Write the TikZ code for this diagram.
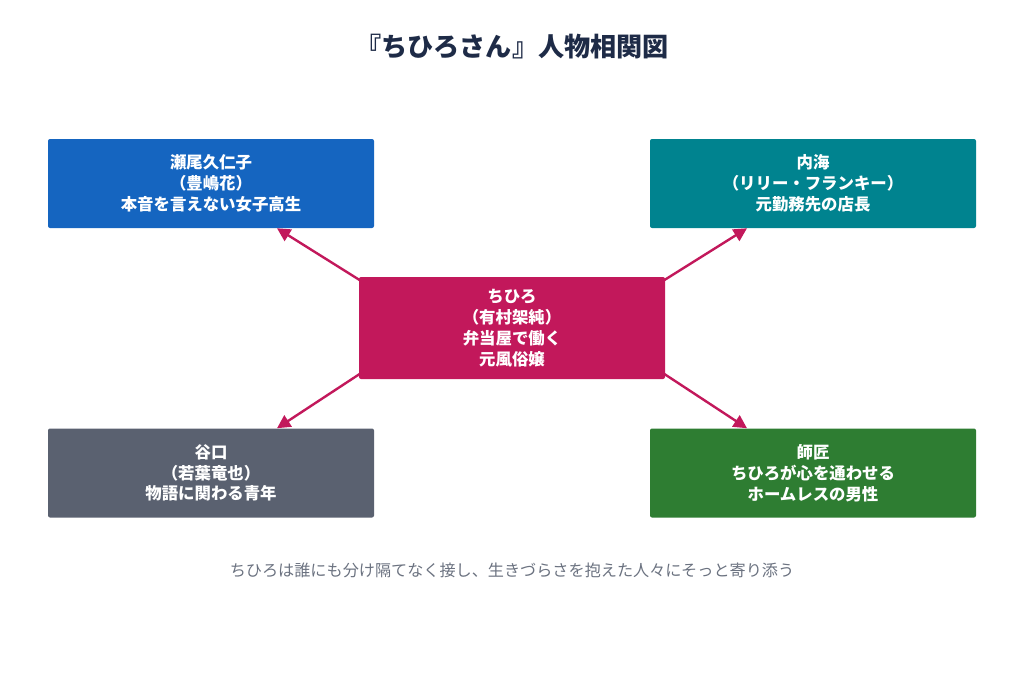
\documentclass[tikz,border=0pt]{standalone}
\usepackage{fontspec}
\setmainfont{Noto Sans CJK JP}
\usepackage{xcolor}
\usetikzlibrary{arrows.meta, positioning}

\definecolor{titlenavy}{HTML}{1E2B47}
\definecolor{kunikoblue}{HTML}{1565C0}
\definecolor{uchiumiteal}{HTML}{00838F}
\definecolor{chihirored}{HTML}{C2185B}
\definecolor{taniguchigray}{HTML}{5A6170}
\definecolor{shishogreen}{HTML}{2E7D32}
\definecolor{captiongray}{HTML}{6B7280}

\begin{document}
\begin{tikzpicture}[
  x=0.75pt, y=-0.75pt,
  person/.style={rounded corners=1.5pt, align=center, text=white,
              font=\bfseries\fontsize{12.3}{15.6}\selectfont,
              minimum width=244.5pt, minimum height=66.75pt, inner sep=2pt},
  centre/.style={person, minimum width=229.5pt, minimum height=76.5pt},
  arr/.style={-{Triangle[length=10pt, width=10pt]}, line width=1.8pt, draw=chihirored}]
\useasboundingbox (0,0) rectangle (1024,678);
\node[font=\bfseries\fontsize{19.6}{24}\selectfont, text=titlenavy] (title) at (512,47) {『ちひろさん』人物相関図};
\node[centre, fill=chihirored] (chihiro) at (512,328) {ちひろ\\（有村架純）\\弁当屋で働く\\元風俗嬢};
\node[person, fill=kunikoblue] (kuniko) at (211,183.5) {瀬尾久仁子\\（豊嶋花）\\本音を言えない女子高生};
\node[person, fill=uchiumiteal] (uchiumi) at (813,183.5) {内海\\（リリー・フランキー）\\元勤務先の店長};
\node[person, fill=taniguchigray] (taniguchi) at (211,473) {谷口\\（若葉竜也）\\物語に関わる青年};
\node[person, fill=shishogreen] (shisho) at (813,473) {師匠\\ちひろが心を通わせる\\ホームレスの男性};
\node[font=\fontsize{12.1}{15}\selectfont, text=captiongray] (caption) at (512,570) {ちひろは誰にも分け隔てなく接し、生きづらさを抱えた人々にそっと寄り添う};
\draw[arr] ([shift={(2,4)}]chihiro.north west) -- ([xshift=49.5pt]kuniko.south);
\draw[arr] ([shift={(-2,4)}]chihiro.north east) -- ([xshift=-49.5pt]uchiumi.south);
\draw[arr] ([shift={(2,-6)}]chihiro.south west) -- ([xshift=49.5pt]taniguchi.north);
\draw[arr] ([shift={(-2,-6)}]chihiro.south east) -- ([xshift=-49.5pt]shisho.north);
\end{tikzpicture}
\end{document}
